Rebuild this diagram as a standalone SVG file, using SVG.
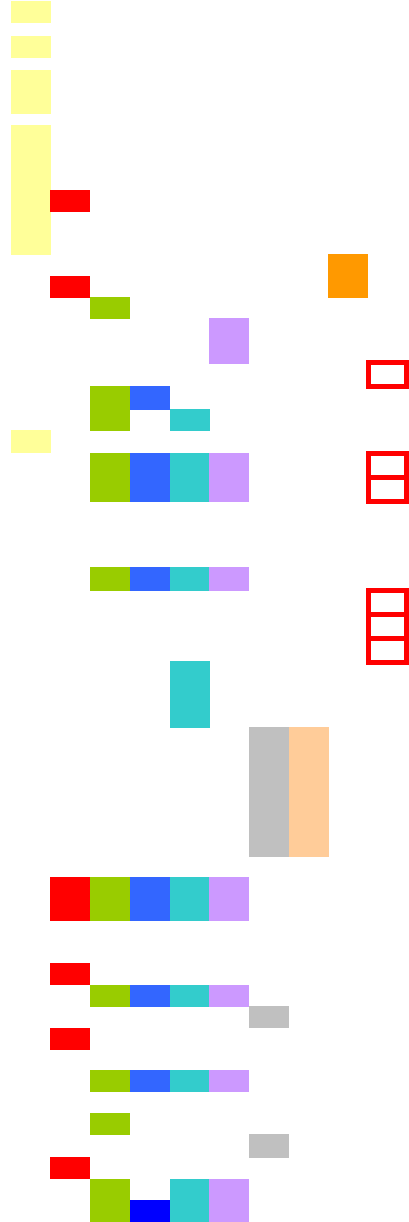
<svg xmlns="http://www.w3.org/2000/svg" width="409" height="1222" viewBox="0 0 409 1222">
<style>
.y{fill:#FFFF99}.r{fill:#FF0000}.g{fill:#99CC00}.b{fill:#3366FF}.c{fill:#33CCCC}.p{fill:#CC99FF}.s{fill:#C0C0C0}.k{fill:#FFCC99}.o{fill:#FF9900}.d{fill:#0000FF}
.box{fill:none;stroke:#FF0000;stroke-width:5}
</style>
<rect width="409" height="1222" fill="#FFFFFF"/>
<g id="yellow">
<rect class="y" x="11" y="1" width="40" height="22"/>
<rect class="y" x="11" y="36" width="40" height="22"/>
<rect class="y" x="11" y="70" width="40" height="44"/>
<rect class="y" x="11" y="125" width="40" height="130"/>
<rect class="y" x="11" y="430" width="40" height="23"/>
</g>
<g id="red">
<rect class="r" x="50" y="190" width="40" height="22"/>
<rect class="r" x="50" y="276" width="40" height="22"/>
<rect class="r" x="50" y="877" width="40" height="44"/>
<rect class="r" x="50" y="963" width="40" height="22"/>
<rect class="r" x="50" y="1028" width="40" height="22"/>
<rect class="r" x="50" y="1157" width="40" height="22"/>
</g>
<g id="green">
<rect class="g" x="90" y="297" width="40" height="22"/>
<rect class="g" x="90" y="386" width="40" height="45"/>
<rect class="g" x="90" y="453" width="40" height="49"/>
<rect class="g" x="90" y="567" width="40" height="24"/>
<rect class="g" x="90" y="877" width="40" height="44"/>
<rect class="g" x="90" y="985" width="40" height="22"/>
<rect class="g" x="90" y="1070" width="40" height="22"/>
<rect class="g" x="90" y="1113" width="40" height="22"/>
<rect class="g" x="90" y="1179" width="40" height="43"/>
</g>
<g id="blue">
<rect class="b" x="130" y="386" width="40" height="24"/>
<rect class="b" x="130" y="453" width="40" height="49"/>
<rect class="b" x="130" y="567" width="40" height="24"/>
<rect class="b" x="130" y="877" width="40" height="44"/>
<rect class="b" x="130" y="985" width="40" height="22"/>
<rect class="b" x="130" y="1070" width="40" height="22"/>
<rect class="d" x="130" y="1200" width="40" height="22"/>
</g>
<g id="cyan">
<rect class="c" x="170" y="409" width="40" height="22"/>
<rect class="c" x="170" y="453" width="40" height="49"/>
<rect class="c" x="170" y="567" width="40" height="24"/>
<rect class="c" x="170" y="661" width="40" height="67"/>
<rect class="c" x="170" y="877" width="40" height="44"/>
<rect class="c" x="170" y="985" width="40" height="22"/>
<rect class="c" x="170" y="1070" width="40" height="22"/>
<rect class="c" x="170" y="1179" width="40" height="43"/>
</g>
<g id="purple">
<rect class="p" x="209" y="318" width="40" height="46"/>
<rect class="p" x="209" y="453" width="40" height="49"/>
<rect class="p" x="209" y="567" width="40" height="24"/>
<rect class="p" x="209" y="877" width="40" height="44"/>
<rect class="p" x="209" y="985" width="40" height="22"/>
<rect class="p" x="209" y="1070" width="40" height="22"/>
<rect class="p" x="209" y="1179" width="40" height="43"/>
</g>
<g id="gray">
<rect class="s" x="249" y="727" width="40" height="130"/>
<rect class="s" x="249" y="1006" width="40" height="22"/>
<rect class="s" x="249" y="1134" width="40" height="24"/>
</g>
<g id="peach">
<rect class="k" x="289" y="727" width="40" height="130"/>
</g>
<g id="orange">
<rect class="o" x="328" y="254" width="40" height="44"/>
</g>
<g id="outlined">
<rect class="box" x="368.5" y="362.5" width="38" height="24"/>
<rect class="box" x="368.5" y="453.5" width="38" height="24"/>
<rect class="box" x="368.5" y="477.5" width="38" height="24"/>
<rect class="box" x="368.5" y="590.5" width="38" height="24"/>
<rect class="box" x="368.5" y="614.5" width="38" height="24"/>
<rect class="box" x="368.5" y="638.5" width="38" height="24"/>
</g>
<g id="connectors"></g>
</svg>
